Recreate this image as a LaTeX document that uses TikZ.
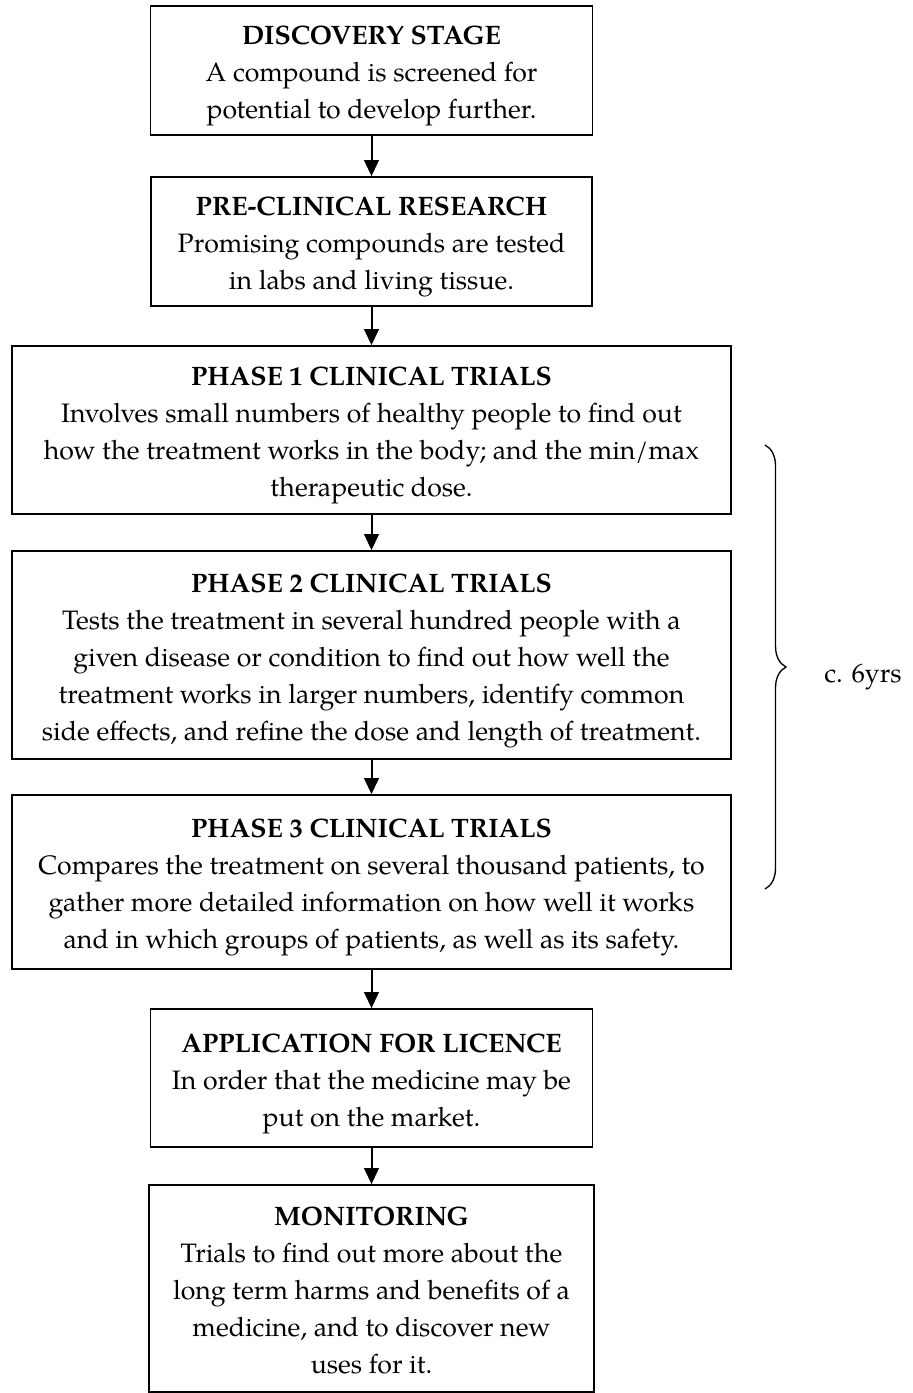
\documentclass[tikz,border=0pt]{standalone}
\usepackage{fontspec}
\setmainfont{TeX Gyre Pagella}
\usetikzlibrary{arrows.meta,decorations.pathreplacing}
\newcommand\toprl{\rule{0pt}{22.5pt}}
\newcommand\botrl{\rule[-6pt]{0pt}{6pt}}
\begin{document}
\begin{tikzpicture}[x=0.75pt,y=-0.75pt,
  box/.style={draw,line width=1.3pt,inner sep=0pt,align=center,
    font=\fontsize{20}{27.75}\selectfont},
  arr/.style={line width=1.5pt,-{Triangle[length=12pt,width=11pt]}},
  lbl/.style={font=\fontsize{20}{27.75}\selectfont,inner sep=0pt},
  bracestyle/.style={line width=1pt,decorate,decoration={brace,amplitude=15.75pt}}
]
\fill[white] (0,0) rectangle (913,1393);
\useasboundingbox (0,0) rectangle (913,1393);

\node[box,minimum width=442*0.75pt,minimum height=129*0.75pt] (disc) at (371.5,70.5)
  {\toprl\textbf{DISCOVERY STAGE}\\A compound is screened for\\potential to develop further.\botrl};
\node[box,minimum width=441*0.75pt,minimum height=129*0.75pt] (pre) at (371.5,241.5)
  {\toprl\textbf{PRE-CLINICAL RESEARCH}\\Promising compounds are tested\\in labs and living tissue.\botrl};
\node[box,minimum width=719*0.75pt,minimum height=168*0.75pt] (p1) at (371.5,430)
  {\toprl\textbf{PHASE 1 CLINICAL TRIALS}\\Involves small numbers of healthy people to find out\\how the treatment works in the body; and the min/max\\therapeutic dose.\botrl};
\node[box,minimum width=719*0.75pt,minimum height=208*0.75pt] (p2) at (371.5,655)
  {\toprl\textbf{PHASE 2 CLINICAL TRIALS}\\Tests the treatment in several hundred people with a\\given disease or condition to find out how well the\\treatment works in larger numbers, identify common\\side effects, and refine the dose and length of treatment.\botrl};
\node[box,minimum width=719*0.75pt,minimum height=174*0.75pt] (p3) at (371.5,882)
  {\toprl\textbf{PHASE 3 CLINICAL TRIALS}\\Compares the treatment on several thousand patients, to\\gather more detailed information on how well it works\\and in which groups of patients, as well as its safety.\botrl};
\node[box,minimum width=442*0.75pt,minimum height=138*0.75pt] (app) at (371.5,1078)
  {\toprl\textbf{APPLICATION FOR LICENCE}\\In order that the medicine may be\\put on the market.\botrl};
\node[box,minimum width=445*0.75pt,minimum height=207*0.75pt] (mon) at (371.5,1288.5)
  {\toprl\textbf{MONITORING}\\Trials to find out more about the\\long term harms and benefits of a\\medicine, and to discover new\\uses for it.\botrl};

\draw[arr] (disc) -- (pre);
\draw[arr] (pre) -- (p1);
\draw[arr] (p1) -- (p2);
\draw[arr] (p2) -- (p3);
\draw[arr] (p3) -- (app);
\draw[arr] (app) -- (mon);

\coordinate (btop) at (765,445);
\coordinate (bbot) at (765,889);
\draw[bracestyle] (btop) -- (bbot);
\node[lbl,anchor=base west] (yrs) at (824,682) {c. 6yrs};
\end{tikzpicture}
\end{document}
